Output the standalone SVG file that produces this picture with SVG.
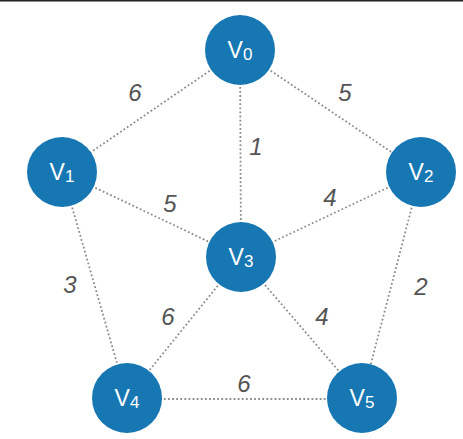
<svg xmlns="http://www.w3.org/2000/svg" width="463" height="439" viewBox="0 0 463 439">
<style>
.edge{stroke:#8c8c8c;stroke-width:1.8;stroke-dasharray:1.8 2.3;fill:none}
.node{fill:#1677b3}
.nl{font-family:"Liberation Sans",Arial,sans-serif;font-size:23px;fill:#ffffff;text-anchor:middle}
.sub{font-size:17px}
.w{font-family:"Liberation Sans",Arial,sans-serif;font-size:24px;font-style:italic;fill:#555555;text-anchor:middle}
</style>
<rect x="0" y="0" width="463" height="439" fill="#ffffff"/>
<rect x="0" y="0" width="463" height="1.5" fill="#222222"/>
<g id="edges">
<line class="edge" x1="240" y1="50" x2="62" y2="172"/>
<line class="edge" x1="240" y1="50" x2="421" y2="172"/>
<line class="edge" x1="240" y1="50" x2="241" y2="257"/>
<line class="edge" x1="62" y1="172" x2="241" y2="257"/>
<line class="edge" x1="421" y1="172" x2="241" y2="257"/>
<line class="edge" x1="62" y1="172" x2="127" y2="398"/>
<line class="edge" x1="421" y1="172" x2="362" y2="398"/>
<line class="edge" x1="241" y1="257" x2="127" y2="398"/>
<line class="edge" x1="241" y1="257" x2="362" y2="398"/>
<line class="edge" x1="127" y1="399" x2="362" y2="399"/>
</g>
<g id="weights">
<text class="w" x="135" y="101">6</text>
<text class="w" x="345" y="101">5</text>
<text class="w" x="256" y="155">1</text>
<text class="w" x="170" y="212">5</text>
<text class="w" x="330" y="206">4</text>
<text class="w" x="70" y="293">3</text>
<text class="w" x="421" y="295">2</text>
<text class="w" x="168" y="325">6</text>
<text class="w" x="322" y="325">4</text>
<text class="w" x="244" y="392">6</text>
</g>
<g id="v0"><circle class="node" cx="240" cy="50" r="35"/><text class="nl" x="240" y="58">V<tspan class="sub" dy="2">0</tspan></text></g>
<g id="v1"><circle class="node" cx="62" cy="172" r="35"/><text class="nl" x="62" y="180">V<tspan class="sub" dy="2">1</tspan></text></g>
<g id="v2"><circle class="node" cx="421" cy="172" r="35"/><text class="nl" x="421" y="180">V<tspan class="sub" dy="2">2</tspan></text></g>
<g id="v3"><circle class="node" cx="241" cy="257" r="35"/><text class="nl" x="241" y="265">V<tspan class="sub" dy="2">3</tspan></text></g>
<g id="v4"><circle class="node" cx="127" cy="398" r="35"/><text class="nl" x="127" y="406">V<tspan class="sub" dy="2">4</tspan></text></g>
<g id="v5"><circle class="node" cx="362" cy="398" r="35"/><text class="nl" x="362" y="406">V<tspan class="sub" dy="2">5</tspan></text></g>
</svg>
